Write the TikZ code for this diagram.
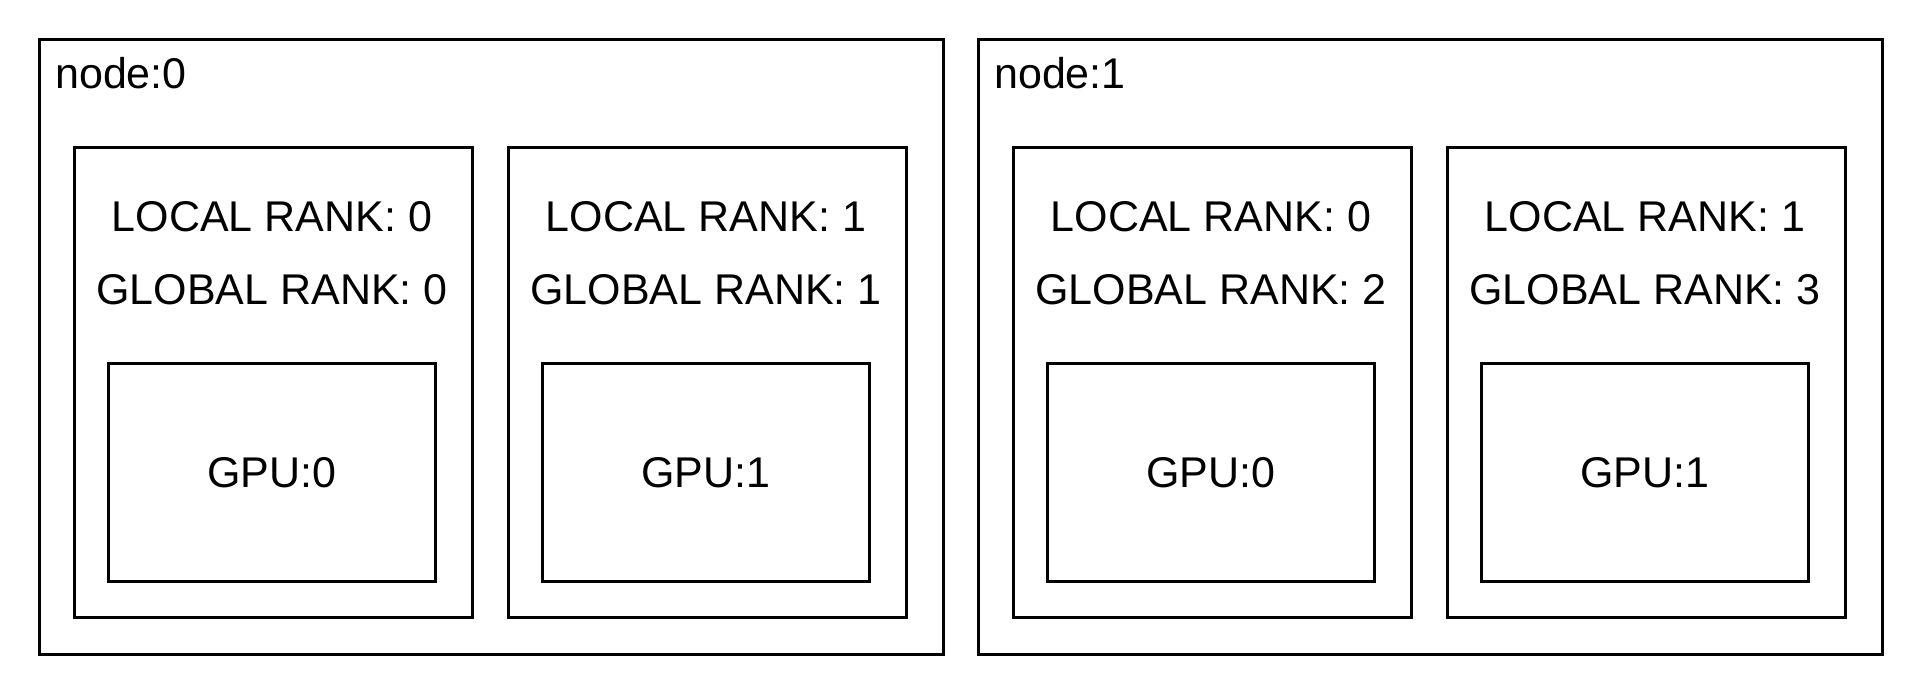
\documentclass[tikz,border=0pt]{standalone}
\usepackage{fontspec}
\setmainfont{Liberation Sans}
\begin{document}
\begin{tikzpicture}[x=1pt,y=-1pt,
  box/.style={draw,line width=3pt,rectangle,inner sep=0pt,anchor=north west},
  lbl/.style={font=\fontsize{43}{52}\selectfont,inner sep=0pt}]
  \useasboundingbox (0,0) rectangle (1920,694);
  \foreach \n/\ox in {0/38,1/977} {
    \node[box,minimum width=904,minimum height=615] (host\n) at (\ox,38) {};
    \node[lbl,anchor=west] (hostlbl\n) at (\ox+17,73) {node:\n};
    \foreach \g/\dx in {0/35,1/469} {
      \pgfmathtruncatemacro\grank{2*\n+\g}
      \node[box,minimum width=398,minimum height=470] (proc\n\g) at (\ox+\dx,146) {};
      \node[lbl] (local\n\g) at (\ox+\dx+199,217) {LOCAL RANK: \g};
      \node[lbl] (global\n\g) at (\ox+\dx+199,290) {GLOBAL RANK: \grank};
      \node[box,anchor=north,minimum width=327,minimum height=218,lbl] (gpu\n\g)
        at (\ox+\dx+199,362) {GPU:\g};
    }
  }
\end{tikzpicture}
\end{document}
